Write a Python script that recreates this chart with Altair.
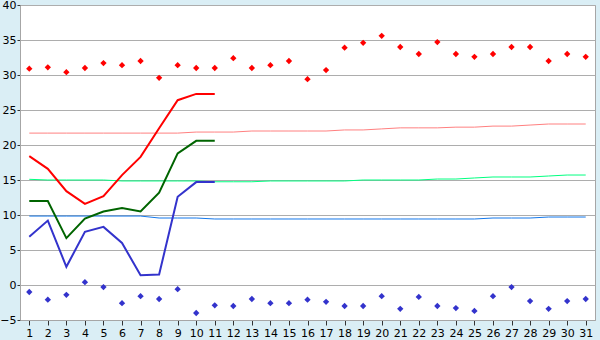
import altair as alt
import pandas as pd

days = list(range(1, 32))

# daily record highs / lows (markers)
rec_max = [30.9, 31.1, 30.4, 31.0, 31.7, 31.4, 32.0, 29.6, 31.4, 31.0, 31.0, 32.4, 31.0, 31.4, 32.0, 29.4,
           30.7, 33.9, 34.6, 35.6, 34.0, 33.0, 34.7, 33.0, 32.6, 33.0, 34.0, 34.0, 32.0, 33.0, 32.6]
rec_min = [-1.0, -2.1, -1.4, 0.4, -0.3, -2.6, -1.6, -2.0, -0.6, -4.0, -2.9, -3.0, -2.0, -2.6, -2.6, -2.1,
           -2.4, -3.0, -3.0, -1.6, -3.4, -1.7, -3.0, -3.3, -3.7, -1.6, -0.3, -2.3, -3.4, -2.3, -2.0]

# normals (thin lines)
norm_max = [21.7] * 9 + [21.85] * 3 + [22.0] * 5 + [22.15] * 2 + [22.3] + [22.45] * 3 + [22.55] * 2 + \
           [22.7] * 2 + [22.85] + [23.0] * 3
norm_mean = [15.1] + [15.0] * 4 + [14.86] * 5 + [14.75] * 3 + [14.86] * 5 + [15.0] * 4 + [15.14] * 2 + \
            [15.29] + [15.43] * 3 + [15.57] + [15.71] * 2
norm_min = [9.85] * 7 + [9.57] * 3 + [9.43] * 15 + [9.57] * 3 + [9.71] * 3

# actual values (thick lines), days 1-11
act_days = list(range(1, 12))
act_max = [18.4, 16.6, 13.4, 11.6, 12.7, 15.7, 18.3, 22.4, 26.4, 27.3, 27.3]
act_mean = [12.0, 12.0, 6.7, 9.5, 10.5, 11.0, 10.5, 13.2, 18.8, 20.6, 20.6]
act_min = [6.9, 9.2, 2.6, 7.6, 8.3, 6.0, 1.4, 1.5, 12.6, 14.7, 14.7]

series = ["nmax", "nmean", "nmin", "amax", "amean", "amin", "rmax", "rmin"]
colors = ["#FF8080", "#00FF80", "#1478EB", "#FF0000", "#006400", "#3333CC", "#FF0000", "#3333CC"]

def frame(name, xs, vs):
    return pd.DataFrame({"day": xs, "v": vs, "s": name})

normals = pd.concat([frame("nmax", days, norm_max), frame("nmean", days, norm_mean),
                     frame("nmin", days, norm_min)])
actuals = pd.concat([frame("amax", act_days, act_max), frame("amean", act_days, act_mean),
                     frame("amin", act_days, act_min)])
records = pd.concat([frame("rmax", days, rec_max), frame("rmin", days, rec_min)])

x_enc = alt.X("day:Q", title=None,
              scale=alt.Scale(domain=[0.5, 31.5], nice=False, zero=False),
              axis=alt.Axis(values=days, grid=False, tickSize=5, labelPadding=2,
                            labelFlush=False, labelOverlap=False, format="d"))
y_enc = alt.Y("v:Q", title=None,
              scale=alt.Scale(domain=[-5, 40], nice=False, zero=False),
              axis=alt.Axis(values=list(range(-5, 41, 5)), grid=True, tickSize=3, labelPadding=1,
                            labelFlush=False, labelOverlap=False))
c_enc = alt.Color("s:N", scale=alt.Scale(domain=series, range=colors), legend=None)

l_norm = alt.Chart(normals).mark_line(strokeWidth=1).encode(x=x_enc, y=y_enc, color=c_enc, detail="s:N")
l_act = alt.Chart(actuals).mark_line(strokeWidth=2).encode(x=x_enc, y=y_enc, color=c_enc, detail="s:N")
l_rec = alt.Chart(records).mark_point(shape="diamond", size=40, filled=True, opacity=1,
                                      strokeWidth=0).encode(x=x_enc, y=y_enc, color=c_enc)

chart = alt.layer(l_norm, l_act, l_rec).properties(
    width=575, height=315,
    autosize=alt.AutoSizeParams(type="none"),
    padding={"left": 20, "top": 5, "right": 5, "bottom": 20},
    background="#DAEEF5",
).configure_view(
    stroke="#A6A6A6", strokeWidth=1, fill="white"
).configure_axis(
    labelFont="DejaVu Sans", labelFontSize=11, labelColor="#000000",
    tickColor="#333333", domainColor="#A6A6A6", gridColor="#ADADAD", gridWidth=1,
    domainWidth=1, tickWidth=1
)

chart.save("out.html", embed_options={"renderer": "svg", "actions": False})
